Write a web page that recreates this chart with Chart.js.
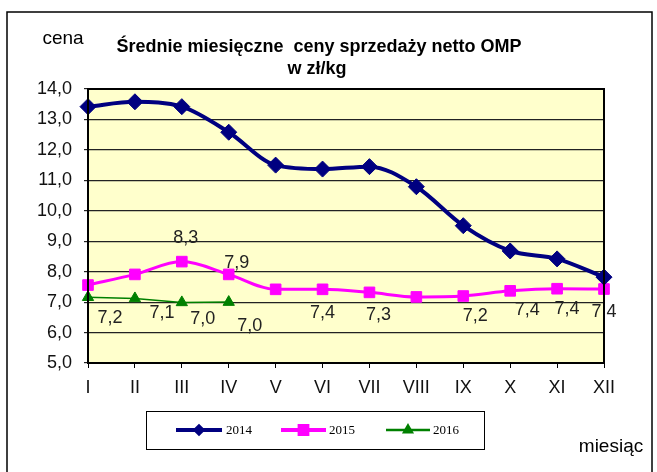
<!DOCTYPE html>
<html>
<head>
<meta charset="utf-8">
<script src="https://cdn.jsdelivr.net/npm/chart.js@4/dist/chart.umd.min.js"></script>
<style>
  html, body { margin: 0; padding: 0; background: #fff; }
  #wrap { width: 657px; height: 472px; position: relative; }
</style>
</head>
<body>
<div id="wrap"><canvas id="myChart" width="657" height="472"></canvas></div>
<script>
// miesiące
let months = ['I', 'II', 'III', 'IV', 'V', 'VI', 'VII', 'VIII', 'IX', 'X', 'XI', 'XII'];

// ceny w zł/kg
let price2014 = [13.42, 13.58, 13.42, 12.58, 11.5, 11.37, 11.45, 10.79, 9.51, 8.68, 8.42, 7.82];
let price2015 = [7.56, 7.91, 8.33, 7.91, 7.42, 7.42, 7.32, 7.17, 7.2, 7.37, 7.44, 7.43];
let price2016 = [7.16, 7.12, 6.99, 7.0];

let seriesNames = ['2014', '2015', '2016'];

const fmt = (v) => v.toFixed(1).replace('.', ',');
const sans = '"Liberation Sans", Arial, sans-serif';

// ktore punkty maja etykiety i gdzie (dx, dy od punktu)
const labelSpots = {
    1: { 2: [4, -24], 3: [8, -11], 5: [0, 24], 6: [9, 23], 8: [12, 20], 9: [17, 19], 10: [10, 20], 11: [0, 23] },
    2: { 0: [22, 21], 1: [27, 15], 2: [21, 17], 3: [21, 24] }
};

const framePlugin = {
    id: 'frame',
    beforeDraw(chart) {
        const c = chart.ctx;
        const a = chart.chartArea;
        c.save();
        c.fillStyle = '#fff';
        c.fillRect(0, 0, chart.width, chart.height);
        c.strokeStyle = '#000';
        c.lineWidth = 1.5;
        c.strokeRect(7, 12, 645, 470);
        c.fillStyle = '#ffffcc';
        c.fillRect(a.left, a.top, a.right - a.left, a.bottom - a.top);
        c.restore();
    },
    afterDraw(chart) {
        const c = chart.ctx;
        const a = chart.chartArea;
        c.save();
        c.strokeStyle = '#000';
        c.lineWidth = 2;
        c.strokeRect(a.left, a.top, a.right - a.left, a.bottom - a.top);

        c.fillStyle = '#000';
        c.textAlign = 'center';
        c.textBaseline = 'middle';
        c.font = 'bold 18px ' + sans;
        c.fillText('Średnie miesięczne  ceny sprzedaży netto OMP', 319, 47);
        c.fillText('w zł/kg', 317, 69);
        c.font = '19px ' + sans;
        c.fillText('cena', 63, 39);
        c.fillText('miesiąc', 611, 447);

        // legenda
        c.lineWidth = 1;
        c.strokeRect(146.5, 411.5, 338, 38);
        const items = [[176, 222, 226], [281, 326, 329], [386, 430, 433]];
        const lineW = [4, 4, 2.5];
        const ly = 430;
        chart.data.datasets.forEach((ds, i) => {
            const it = items[i];
            c.strokeStyle = ds.borderColor;
            c.lineWidth = lineW[i];
            c.beginPath();
            c.moveTo(it[0], ly);
            c.lineTo(it[1], ly);
            c.stroke();
            c.fillStyle = ds.pointBackgroundColor;
            c.strokeStyle = ds.pointBorderColor;
            Chart.helpers.drawPoint(c, {
                pointStyle: ds.pointStyle,
                radius: ds.legendRadius,
                rotation: 0,
                borderWidth: 1
            }, (it[0] + it[1]) / 2, ly);
            c.fillStyle = '#000';
            c.textAlign = 'left';
            c.font = '13px "Liberation Serif", "Times New Roman", serif';
            c.fillText(seriesNames[i], it[2], ly + 1);
        });
        c.restore();
    },
    afterDatasetsDraw(chart) {
        const c = chart.ctx;
        c.save();
        c.fillStyle = '#222';
        c.font = '18px ' + sans;
        c.textAlign = 'center';
        c.textBaseline = 'middle';
        Object.keys(labelSpots).forEach((di) => {
            const meta = chart.getDatasetMeta(+di);
            const data = chart.data.datasets[di].data;
            const spots = labelSpots[di];
            Object.keys(spots).forEach((pi) => {
                const el = meta.data[+pi];
                const off = spots[pi];
                c.fillText(fmt(data[pi]), el.x + off[0], el.y + off[1]);
            });
        });
        c.restore();
    }
};

let ctx = document.getElementById('myChart').getContext('2d');

let myChart = new Chart(ctx, {
    type: 'line',
    data: {
        labels: months,
        datasets: [{
            label: seriesNames[0],
            data: price2014,
            borderColor: '#000080',
            borderWidth: 4,
            pointStyle: 'rectRot',
            pointRadius: 8,
            pointBackgroundColor: '#000080',
            pointBorderColor: '#000080',
            pointBorderWidth: 1,
            legendRadius: 3.5,
            cubicInterpolationMode: 'monotone',
            clip: false
        }, {
            label: seriesNames[1],
            data: price2015,
            borderColor: '#ff00ff',
            borderWidth: 3,
            pointStyle: 'rect',
            pointRadius: 7.5,
            pointBackgroundColor: '#ff00ff',
            pointBorderColor: '#ff00ff',
            pointBorderWidth: 1,
            legendRadius: 5.5,
            cubicInterpolationMode: 'monotone',
            clip: false
        }, {
            label: seriesNames[2],
            data: price2016,
            borderColor: '#008000',
            borderWidth: 1.5,
            pointStyle: 'triangle',
            pointRadius: 6.5,
            pointBackgroundColor: '#008000',
            pointBorderColor: '#008000',
            pointBorderWidth: 1,
            legendRadius: 4.5,
            clip: false
        }]
    },
    options: {
        responsive: false,
        animation: false,
        layout: {
            padding: { top: 89, right: 53, left: 0, bottom: 0 }
        },
        plugins: {
            legend: { display: false },
            tooltip: { enabled: false }
        },
        scales: {
            x: {
                offset: false,
                afterFit: (s) => { s.height = 109; },
                grid: {
                    drawOnChartArea: false,
                    drawTicks: true,
                    tickLength: 5,
                    color: '#000',
                    lineWidth: 1
                },
                border: { display: false },
                ticks: {
                    color: '#111',
                    padding: 9,
                    maxRotation: 0,
                    font: { family: sans, size: 18 }
                }
            },
            y: {
                min: 5,
                max: 14,
                afterFit: (s) => { s.width = 88; },
                grid: {
                    color: '#222',
                    lineWidth: 1.2,
                    drawTicks: true,
                    tickLength: 4
                },
                border: { display: false },
                ticks: {
                    stepSize: 1,
                    color: '#111',
                    padding: 12,
                    callback: (v) => fmt(v),
                    font: { family: sans, size: 18 }
                }
            }
        }
    },
    plugins: [framePlugin]
});
</script>
</body>
</html>
